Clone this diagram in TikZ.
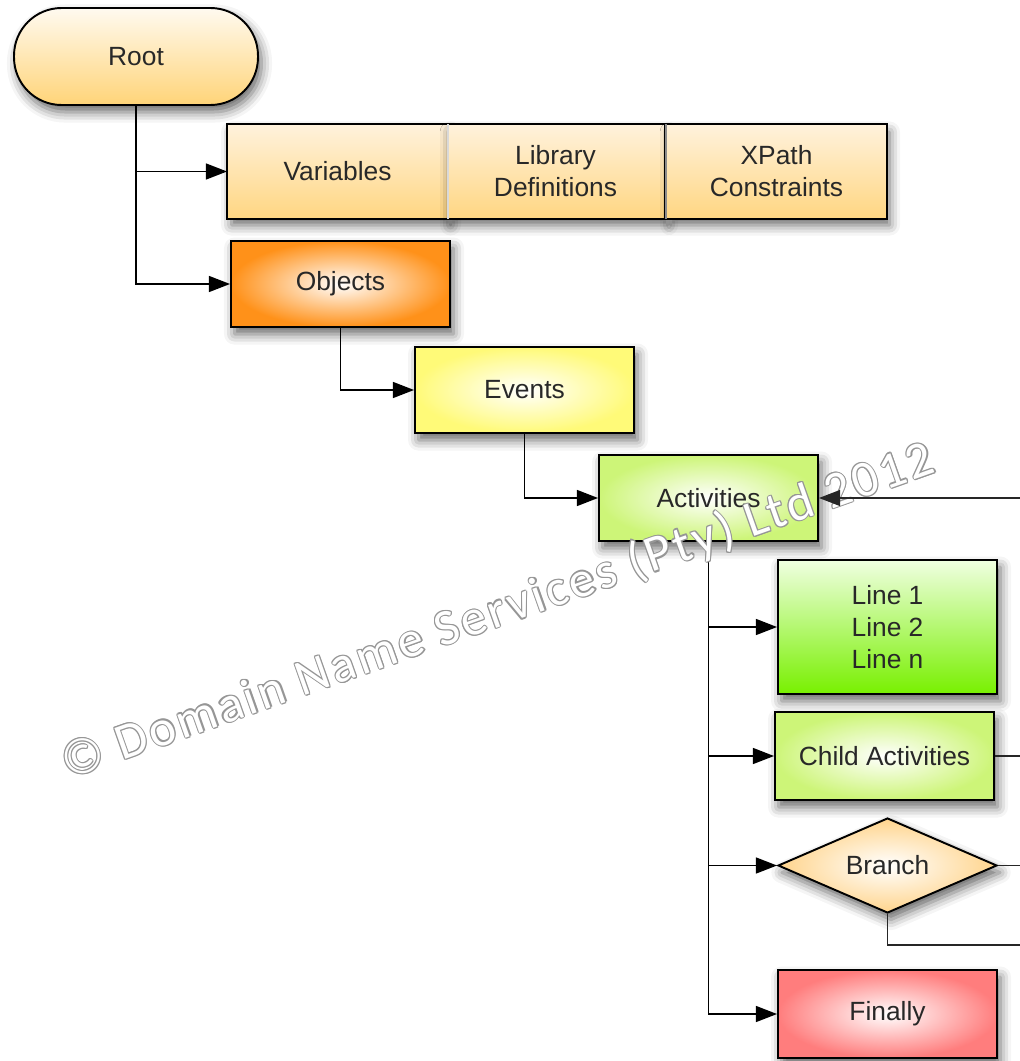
\documentclass[tikz,border=0pt]{standalone}
\usepackage{fontspec}
\setmainfont{Liberation Sans}
\newfontfamily\wmfont{Carlito}[LetterSpace=6]
\usetikzlibrary{shapes.geometric, shadows.blur, arrows.meta}
\definecolor{txt}{RGB}{40,40,40}
\definecolor{rootT}{RGB}{255,250,240}
\definecolor{rootB}{RGB}{255,212,120}
\definecolor{rowT}{RGB}{255,242,220}
\definecolor{rowB}{RGB}{255,214,130}
\definecolor{objO}{RGB}{255,145,25}
\definecolor{evO}{RGB}{255,250,120}
\definecolor{actO}{RGB}{205,245,120}
\definecolor{lnT}{RGB}{240,255,225}
\definecolor{lnB}{RGB}{120,240,0}
\definecolor{brO}{RGB}{255,212,140}
\definecolor{finO}{RGB}{255,125,125}
\definecolor{wmline}{RGB}{150,150,150}
\newcommand{\wmtext}{\textcopyright{} Domain Name Services (Pty) Ltd 2012}
\begin{document}
\begin{tikzpicture}[x=0.02cm,y=-0.02cm,
  box/.style={rectangle, draw=black, line width=1.1pt, text=txt, align=center, inner sep=0pt,
    font=\fontsize{15pt}{18.2pt}\selectfont,
    blur shadow={shadow xshift=2pt, shadow yshift=-4pt, shadow blur radius=6pt, shadow opacity=60}},
  conn/.style={line width=1.1pt, draw=black},
  thin conn/.style={line width=0.9pt, draw=black!85},
  tip/.style={-{Triangle[length=12pt,width=9pt]}},
  arr/.style={conn, tip},
  wm/.style={rotate=19.5, inner sep=0pt, font=\wmfont\fontsize{29pt}{29pt}\selectfont}]
\useasboundingbox (0,0) rectangle (1020,1061);

% nodes
\node[box, rounded corners=0.95cm, minimum width=4.88cm, minimum height=1.94cm,
  top color=rootT, bottom color=rootB] (root) at (136,56.5) {Root};

\node[box, draw=none, minimum width=4.38cm, minimum height=1.86cm,
  top color=rowT, bottom color=rowB] (var) at (337.5,171.5) {Variables};
\node[box, draw=none, minimum width=4.34cm, minimum height=1.86cm,
  top color=rowT, bottom color=rowB] (lib) at (555.5,171.5) {Library\\Definitions};
\node[box, draw=none, minimum width=4.38cm, minimum height=1.86cm,
  top color=rowT, bottom color=rowB] (xp) at (776.5,171.5) {XPath\\Constraints};
\draw[conn] (var.north west) rectangle (lib.south east);
\draw[conn] (xp.north west) rectangle (xp.south east);
\draw[line width=0.8pt, black!15] (var.north east) -- (var.south east);
\draw[line width=1pt, black!45] (xp.north west) -- (xp.south west);

\node[box, minimum width=4.38cm, minimum height=1.72cm,
  inner color=white, outer color=objO] (obj) at (340.5,284) {Objects};
\node[box, minimum width=4.38cm, minimum height=1.72cm,
  inner color=white, outer color=evO] (ev) at (524.5,390) {Events};
\node[box, minimum width=4.38cm, minimum height=1.72cm,
  inner color=white, outer color=actO] (act) at (708.5,498) {Activities};
\node[box, minimum width=4.38cm, minimum height=2.68cm,
  top color=lnT, bottom color=lnB] (lines) at (887.5,627) {Line 1\\Line 2\\Line n};
\node[box, minimum width=4.38cm, minimum height=1.76cm,
  inner color=white, outer color=actO] (child) at (884.5,756) {Child Activities};
\node[box, diamond, shape aspect=2.3, minimum width=4.38cm, minimum height=1.9cm,
  inner color=white, outer color=brO] (branch) at (887.5,865.5) {Branch};
\node[box, minimum width=4.38cm, minimum height=1.76cm,
  inner color=white, outer color=finO] (fin) at (887.5,1014) {Finally};

% connectors
\draw[arr] (root.south) |- (var.west);
\draw[arr] (root.south) |- (obj.west);
\draw[arr] (obj.south) |- (ev.west);
\draw[arr] (ev.south) |- (act.west);
\draw[arr] (act.south) |- (lines.west);
\draw[arr] (act.south) |- (child.west);
\draw[arr] (act.south) |- (branch.west);
\draw[arr] (act.south) |- (fin.west);

\coordinate (inR) at (1020,498);
\coordinate (outC) at (1020,756);
\coordinate (outB) at (1020,865.5);
\coordinate (outD) at (1020,945);
\draw[thin conn] (child.east) -- (outC);
\draw[thin conn] (branch.east) -- (outB);
\draw[thin conn] (branch.south) |- (outD);

% watermark
\node[wm, text=wmline, xshift=0.7pt] (wm1) at (498,612) {\wmtext};
\node[wm, text=wmline, xshift=-0.7pt] (wm2) at (498,612) {\wmtext};
\node[wm, text=wmline, yshift=0.7pt] (wm3) at (498,612) {\wmtext};
\node[wm, text=wmline, yshift=-0.7pt] (wm4) at (498,612) {\wmtext};
\node[wm, text=wmline, xshift=0.5pt, yshift=0.5pt] (wm5) at (498,612) {\wmtext};
\node[wm, text=wmline, xshift=-0.5pt, yshift=-0.5pt] (wm6) at (498,612) {\wmtext};
\node[wm, text=wmline, xshift=0.5pt, yshift=-0.5pt] (wm7) at (498,612) {\wmtext};
\node[wm, text=wmline, xshift=-0.5pt, yshift=0.5pt] (wm8) at (498,612) {\wmtext};
\node[wm, text=white] (wm9) at (498,612) {\wmtext};

\draw[thin conn, tip] (inR) -- (act.east);
\end{tikzpicture}
\end{document}
